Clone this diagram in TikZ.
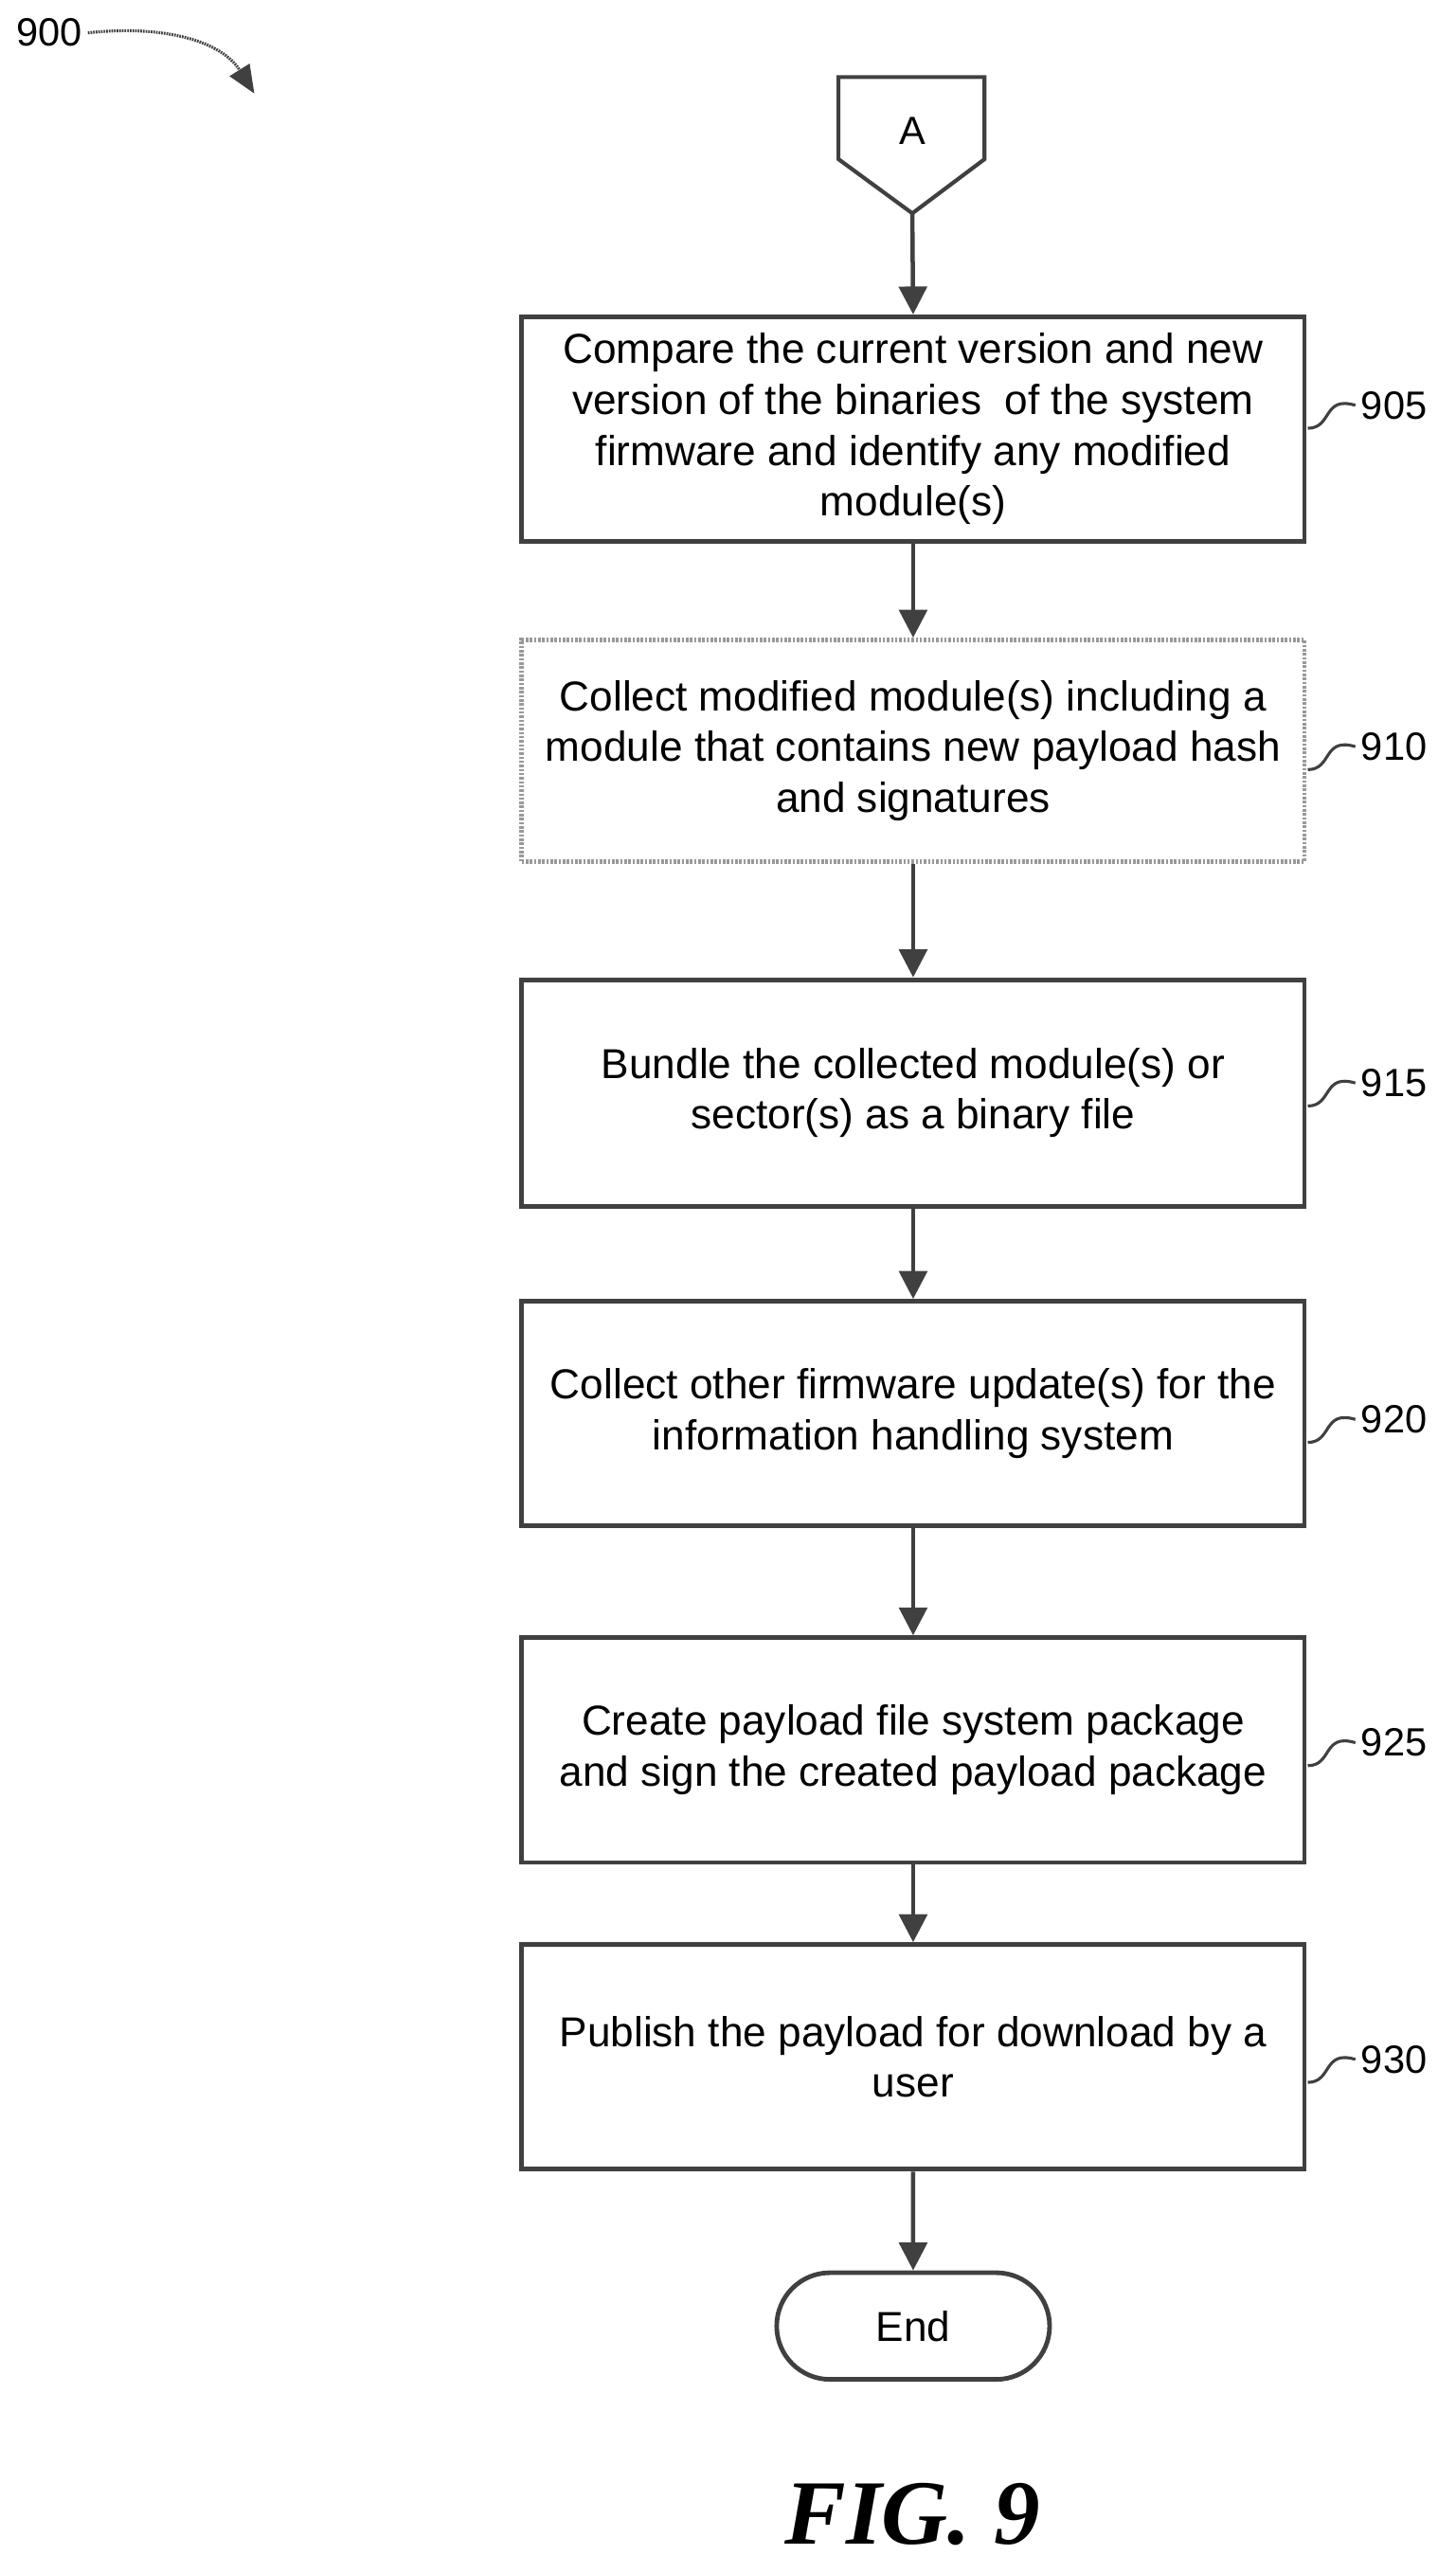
\documentclass[tikz,border=0pt]{standalone}
\usepackage{fontspec}
\setmainfont{Liberation Sans}
\newfontfamily\figfont{Liberation Serif}
\usetikzlibrary{arrows.meta,shapes.misc}
\begin{document}
\begin{tikzpicture}[x=1pt,y=1pt,
  box/.style={draw=black!75,line width=2.8pt,minimum width=477pt,align=center,font=\fontsize{25.5}{31}\selectfont,inner sep=4pt},
  arr/.style={draw=black!75,line width=2.6pt,-{Triangle[length=17pt,width=17pt]}},
  lab/.style={font=\fontsize{24}{28}\selectfont,anchor=west},
  sq/.style={draw=black!75,line width=1.8pt}]
\useasboundingbox (0,0) rectangle (887,-1568);
\draw[draw=black!75,line width=2.4pt] (511,-47) -- (600,-47) -- (600,-97) -- (556,-130) -- (511,-97) -- cycle;
\node[font=\fontsize{24}{28}\selectfont] (A) at (556,-80) {A};
\coordinate (Abot) at (556,-130);
\node[box,minimum height=137pt] (b905) at (556.5,-261.5) {Compare the current version and new\\version of the binaries \ of the system\\firmware and identify any modified\\module(s)};
\node[box,minimum height=135pt,draw=black!40,dash pattern=on 1.5pt off 1pt] (b910) at (556.5,-457.5) {Collect modified module(s) including a\\module that contains new payload hash\\and signatures};
\node[box,minimum height=138pt] (b915) at (556.5,-666) {Bundle the collected module(s) or\\sector(s) as a binary file};
\node[box,minimum height=137pt] (b920) at (556.5,-861.5) {Collect other firmware update(s) for the\\information handling system};
\node[box,minimum height=137pt] (b925) at (556.5,-1066.5) {Create payload file system package\\and sign the created payload package};
\node[box,minimum height=137pt] (b930) at (556.5,-1253.5) {Publish the payload for download by a\\user};
\node[draw=black!75,line width=2.8pt,rounded rectangle,minimum width=173pt,minimum height=65pt,font=\fontsize{25.5}{30}\selectfont] (end) at (556.5,-1417.5) {End};
\draw[arr] (Abot) -- (b905.north);
\draw[arr] (b905) -- (b910);
\draw[arr] (b910) -- (b915);
\draw[arr] (b915) -- (b920);
\draw[arr] (b920) -- (b925);
\draw[arr] (b925) -- (b930);
\draw[arr] (b930) -- (end);
\foreach \n/\y in {905/-247,910/-455,915/-660,920/-865,925/-1062,930/-1255}{
  \node[lab] (l\n) at (826,\y) {\n};
  \draw[sq] (797,\y-14) .. controls (812,\y-14) and (806,\y+6) .. (l\n.west);
}
\node[font=\fontsize{24}{28}\selectfont] (l900) at (30,-20) {900};
\draw[draw=black!75,line width=1.8pt,dash pattern=on 1pt off 0.6pt,-{Triangle[length=17pt,width=14pt]}] (l900.east) .. controls (100,-15) and (135,-25) .. (155,-57);
\node[font=\figfont\bfseries\itshape\fontsize{56}{62}\selectfont] (fig) at (556,-1532) {FIG. 9};
\end{tikzpicture}
\end{document}
